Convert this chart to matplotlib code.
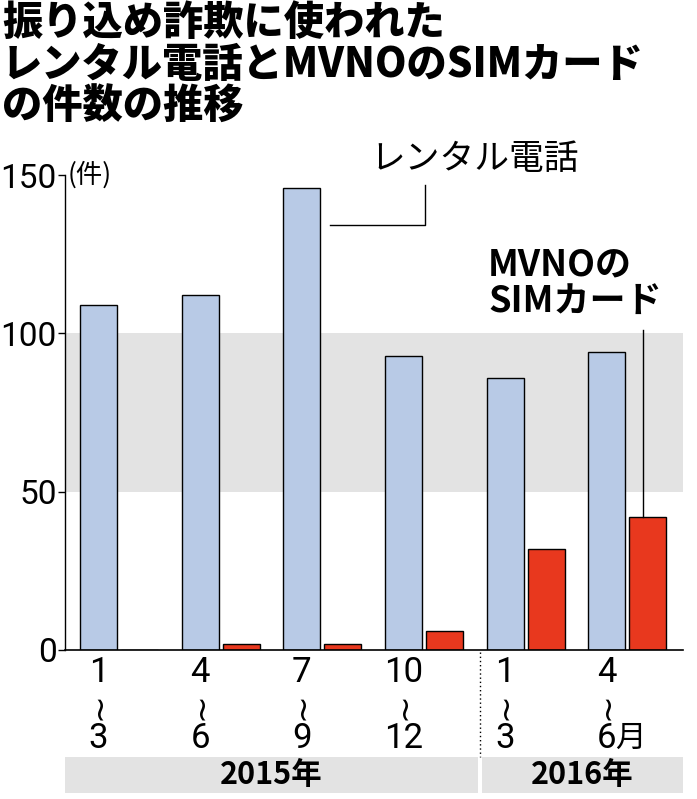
import matplotlib
matplotlib.use("Agg")
import matplotlib.pyplot as plt
from matplotlib.patches import Rectangle

# データ
periods = ["1", "4", "7", "10", "1", "4"]
period_ends = ["3", "6", "9", "12", "3", "6月"]
rental = [109, 112, 146, 93, 86, 94]
mvno = [0, 2, 2, 6, 32, 42]
years = ["2015年", "2016年"]

W, H = 697, 799
JP = "Noto Sans CJK JP"
NUM = "Roboto"
BLUE = "#b8cae6"
RED = "#e8381e"
GREY = "#e3e3e3"

fig = plt.figure(figsize=(W / 100, H / 100), dpi=100)
fig.patch.set_facecolor("white")

def fx(px):
    return px / W

def fy(py):
    return 1 - py / H

ax_left, ax_right, ax_top, ax_bottom = 65, 683, 175, 650
ax = fig.add_axes([fx(ax_left), fy(ax_bottom), fx(ax_right - ax_left), (ax_bottom - ax_top) / H])
ax.set_ylim(0, 150)
ax.set_xlim(-0.33, 5.75)
ax.axhspan(50, 100, color=GREY, zorder=0, lw=0)

bw = 0.364
xs = list(range(len(rental)))
ax.bar(xs, rental, width=bw, color=BLUE, edgecolor="black", linewidth=1, zorder=2)
ax.bar([x + bw + 0.04 for x in xs], mvno, width=bw, color=RED, edgecolor="black", linewidth=1, zorder=2)

for s in ["top", "right"]:
    ax.spines[s].set_visible(False)
ax.spines["left"].set_linewidth(1)
ax.spines["bottom"].set_linewidth(1.2)
ax.set_xticks([])
ax.set_yticks([0, 50, 100, 150])
ax.set_yticklabels(["0", "50", "100", "150"], fontfamily=NUM, fontsize=24)
ax.tick_params(axis="y", length=5, width=1, pad=1)
ax.text(-0.3, 150, "(件)", fontfamily=JP, fontsize=19, va="center", ha="left")

# タイトル
title = "振り込め詐欺に使われた\nレンタル電話とMVNOのSIMカード\nの件数の推移"
fig.text(fx(2), fy(2), title, fontfamily=JP, fontweight="black", fontsize=29,
         va="top", ha="left", linespacing=1.0)

# 注記
fig.text(fx(370), fy(160), "レンタル電話", fontfamily=JP, fontsize=25, va="center", ha="left")
fig.add_artist(plt.Line2D([fx(330), fx(425), fx(425)], [fy(225), fy(225), fy(185)],
                          color="black", lw=1))
fig.text(fx(488), fy(283), "MVNOの\nSIMカード", fontfamily=JP, fontweight="bold", fontsize=26,
         va="center", ha="left", linespacing=1.0)
ax.plot([5 + bw + 0.04 - 0.05] * 2, [mvno[-1], 101], color="black", lw=1, zorder=3)

# 横軸ラベル
for i, (a, b) in enumerate(zip(periods, period_ends)):
    cx = ax_left + (i + 0.33) * 101.6
    fig.text(fx(cx), fy(672), a, fontfamily=NUM, fontsize=25, ha="center", va="center")
    fig.text(fx(cx), fy(706), "~", fontfamily="DejaVu Sans", fontsize=24, ha="center",
             va="center", rotation=90)
    if b.endswith("月"):
        fig.text(fx(cx), fy(738), b[:-1], fontfamily=NUM, fontsize=25, ha="center", va="center")
        fig.text(fx(cx + 9), fy(738), "月", fontfamily=JP, fontsize=22, ha="left", va="center")
    else:
        fig.text(fx(cx), fy(738), b, fontfamily=NUM, fontsize=25, ha="center", va="center")

# 年の帯
fig.add_artist(Rectangle((fx(ax_left), fy(793)), fx(478 - ax_left), (793 - 757) / H,
                         color=GREY, lw=0))
fig.add_artist(Rectangle((fx(482), fy(793)), fx(ax_right - 482), (793 - 757) / H,
                         color=GREY, lw=0))
fig.text(fx(271), fy(775), years[0], fontfamily=JP, fontweight="bold", fontsize=22, ha="center", va="center")
fig.text(fx(582), fy(775), years[1], fontfamily=JP, fontweight="bold", fontsize=22, ha="center", va="center")
fig.add_artist(plt.Line2D([fx(480), fx(480)], [fy(652), fy(757)], color="black", lw=1,
                          linestyle=(0, (1, 2))))

fig.savefig("out.png", dpi=100, facecolor="white")
